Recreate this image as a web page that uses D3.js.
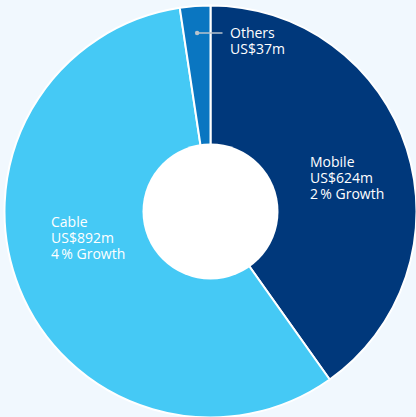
<!DOCTYPE html>
<html>
<head>
<meta charset="utf-8">
<script src="https://cdn.jsdelivr.net/npm/d3@7"></script>
<style>
  html, body { margin: 0; padding: 0; background: #f1f8fe; }
  svg { display: block; }
  text { font-family: "Open Sans", Lato, sans-serif; font-size: 14px; fill: #ffffff; }
</style>
</head>
<body>
<svg id="chart" width="416" height="417"></svg>
<script>
// Revenue by segment (US$m)
const segments = ["Mobile", "Cable", "Others"];
const revenue = [624, 892, 37];
const growth = ["2\u2009% Growth", "4\u2009% Growth", null];
const colors = ["#00387b", "#45c9f5", "#0a76c1"];

const width = 416, height = 417;
const cx = 210.5, cy = 211.5;
const outerR = 206, innerR = 68;
const lineH = 16;

const svg = d3.select("#chart");
svg.append("rect").attr("width", width).attr("height", height).attr("fill", "#f1f8fe");

const data = segments.map((s, i) => ({ name: s, value: revenue[i], growth: growth[i], color: colors[i] }));

const pie = d3.pie().sort(null).value(d => d.value);
const arcs = pie(data);
const arc = d3.arc().innerRadius(0).outerRadius(outerR);

const g = svg.append("g").attr("transform", `translate(${cx},${cy})`);

g.selectAll("path.slice")
  .data(arcs)
  .join("path")
  .attr("class", "slice")
  .attr("d", arc)
  .attr("fill", d => d.data.color)
  .attr("stroke", "#ffffff")
  .attr("stroke-width", 2);

// white hole
g.append("circle").attr("r", innerR).attr("fill", "#ffffff");

const fmt = v => `US$${v}m`;

// Labels for the large slices sit inside them
const labelPos = { Mobile: [310, 167], Cable: [51, 227] };
arcs.filter(a => labelPos[a.data.name]).forEach(a => {
  const [x, y] = labelPos[a.data.name];
  const t = svg.append("text").attr("x", x).attr("y", y);
  const lines = [a.data.name, fmt(a.data.value), a.data.growth].filter(Boolean);
  lines.forEach((l, i) => {
    t.append("tspan").attr("x", x).attr("dy", i === 0 ? 0 : lineH).text(l);
  });
});

// Small slice gets a leader line from its centre
const others = arcs.find(a => a.data.name === "Others");
const mid = (others.startAngle + others.endAngle) / 2;
const rDot = 179;
const dx = Math.sin(mid) * rDot + cx;
const dy = -Math.cos(mid) * rDot + cy;
svg.append("line")
  .attr("x1", dx).attr("y1", dy).attr("x2", 222.5).attr("y2", dy)
  .attr("stroke", "#b9c3cc").attr("stroke-width", 1.5);
svg.append("circle").attr("cx", dx).attr("cy", dy).attr("r", 2.2).attr("fill", "#b9c3cc");
const ot = svg.append("text").attr("x", 230).attr("y", 37.5);
ot.append("tspan").attr("x", 230).attr("dy", 0).text(others.data.name);
ot.append("tspan").attr("x", 230).attr("dy", lineH).text(fmt(others.data.value));
</script>
</body>
</html>
